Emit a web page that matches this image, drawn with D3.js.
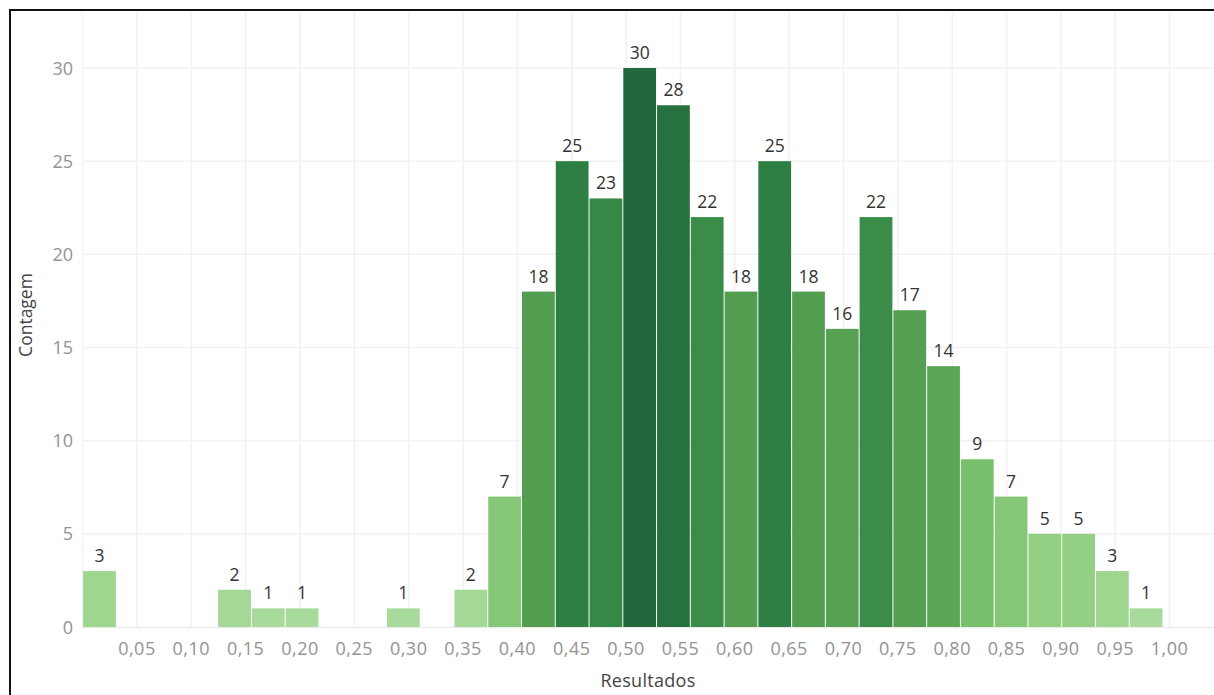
<!DOCTYPE html>
<html>
<head>
<meta charset="utf-8">
<script src="https://cdn.jsdelivr.net/npm/d3@7"></script>
<style>
  html, body { margin: 0; padding: 0; background: #fff; }
  svg { display: block; }
  text { font-family: "Open Sans", "Noto Sans", sans-serif; }
</style>
</head>
<body>
<svg id="chart" width="1214" height="695"></svg>
<script>
// Histogram of "Resultados": counts per bin, bins start at 0
const binSize = 0.03106;
const counts = [3, 0, 0, 0, 2, 1, 1, 0, 0, 1, 0, 2, 7, 18, 25, 23, 30, 28, 22, 18, 25, 18, 16, 22, 17, 14, 9, 7, 5, 5, 3, 1];
const xTickValues = [0.05, 0.10, 0.15, 0.20, 0.25, 0.30, 0.35, 0.40, 0.45, 0.50, 0.55, 0.60, 0.65, 0.70, 0.75, 0.80, 0.85, 0.90, 0.95, 1.00];
const xGridValues = [0].concat(xTickValues);
const yTickValues = [0, 5, 10, 15, 20, 25, 30];
const xTitle = "Resultados";
const yTitle = "Contagem";

const W = 1214, H = 695;
const plot = { left: 82, top: 12, right: W, bottom: 627 };

const svg = d3.select("#chart");

const x = d3.scaleLinear().domain([0, 1]).range([82.6, 1169.6]);
const y = d3.scaleLinear().domain([0, 30]).range([plot.bottom, 68]);

// sequential green ramp keyed on the count
const color = d3.scaleLinear()
  .domain([1, 5, 9, 14, 18, 22, 25, 30])
  .range(["#a8da9c", "#93d083", "#77bf6a", "#5ba655", "#529d50", "#3a8c48", "#2e7f43", "#23683c"])
  .interpolate(d3.interpolateLab);

const fmt = v => d3.format(".2f")(v).replace(".", ",");

svg.append("clipPath").attr("id", "plotclip")
  .append("rect")
  .attr("x", plot.left).attr("y", plot.top)
  .attr("width", plot.right - plot.left).attr("height", plot.bottom - plot.top);

// grid
const grid = svg.append("g").attr("clip-path", "url(#plotclip)");
grid.selectAll("line.v").data(xGridValues).join("line")
  .attr("class", "v")
  .attr("x1", d => x(d)).attr("x2", d => x(d))
  .attr("y1", plot.top).attr("y2", plot.bottom)
  .attr("stroke", "#f2f2f2").attr("stroke-width", 1.5);
grid.selectAll("line.h").data(yTickValues.filter(d => d > 0)).join("line")
  .attr("class", "h")
  .attr("x1", plot.left).attr("x2", plot.right)
  .attr("y1", d => y(d)).attr("y2", d => y(d))
  .attr("stroke", "#f2f2f2").attr("stroke-width", 1.5);

// baseline
svg.append("line")
  .attr("x1", plot.left).attr("x2", plot.right)
  .attr("y1", y(0) + 0.5).attr("y2", y(0) + 0.5)
  .attr("stroke", "#ececec").attr("stroke-width", 1.5);

// bars
const bars = counts.map((c, i) => ({ i, c, x0: i * binSize, x1: (i + 1) * binSize })).filter(d => d.c > 0);

svg.append("g").selectAll("rect").data(bars).join("rect")
  .attr("x", d => x(d.x0) + 0.5)
  .attr("width", d => x(d.x1) - x(d.x0) - 1)
  .attr("y", d => y(d.c))
  .attr("height", d => y(0) - y(d.c))
  .attr("fill", d => color(d.c));

// value labels
svg.append("g").selectAll("text").data(bars).join("text")
  .attr("x", d => (x(d.x0) + x(d.x1)) / 2)
  .attr("y", d => y(d.c) - 9)
  .attr("text-anchor", "middle")
  .attr("font-size", 17.5)
  .attr("fill", "#333")
  .text(d => d.c);

// x tick labels
svg.append("g").selectAll("text").data(xTickValues).join("text")
  .attr("x", d => x(d))
  .attr("y", 655)
  .attr("text-anchor", "middle")
  .attr("font-size", 18)
  .attr("letter-spacing", 0.5)
  .attr("fill", "#939393")
  .text(d => fmt(d));

// y tick labels
svg.append("g").selectAll("text").data(yTickValues).join("text")
  .attr("x", 73)
  .attr("y", d => y(d) + 6.5)
  .attr("text-anchor", "end")
  .attr("font-size", 18)
  .attr("fill", "#939393")
  .text(d => d);

// axis titles
svg.append("text")
  .attr("x", (plot.left + plot.right) / 2)
  .attr("y", 687)
  .attr("text-anchor", "middle")
  .attr("font-size", 18)
  .attr("letter-spacing", 0.3)
  .attr("fill", "#444")
  .text(xTitle);

svg.append("text")
  .attr("transform", `translate(32, 315) rotate(-90)`)
  .attr("text-anchor", "middle")
  .attr("font-size", 17.5)
  .attr("fill", "#444")
  .text(yTitle);

// frame
svg.append("rect")
  .attr("x", 10).attr("y", 10)
  .attr("width", W + 20).attr("height", H + 20)
  .attr("fill", "none")
  .attr("stroke", "#111").attr("stroke-width", 2);
</script>
</body>
</html>
